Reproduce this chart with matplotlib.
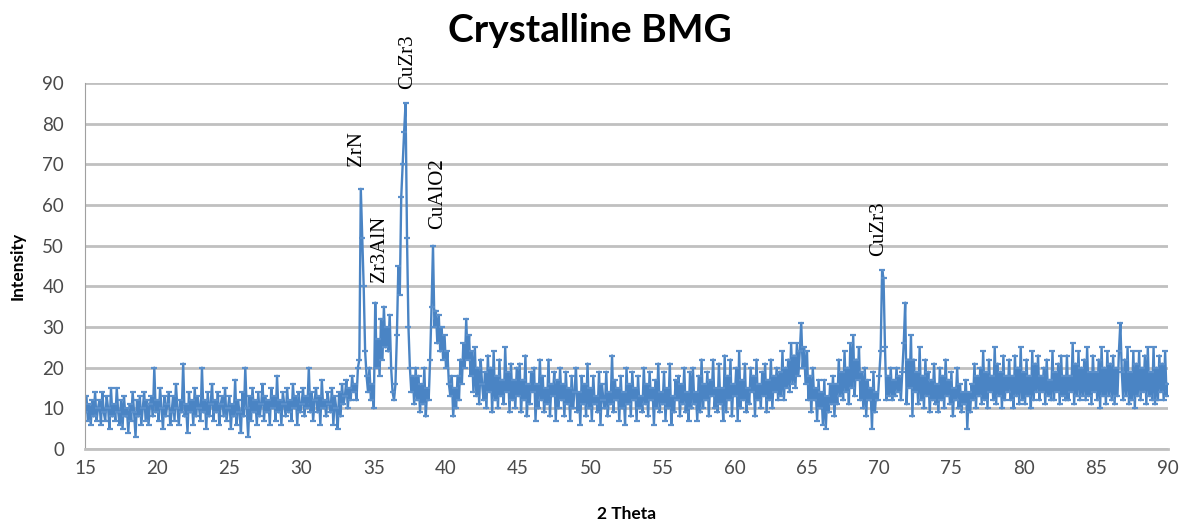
import matplotlib.pyplot as plt
import numpy as np

plt.rcParams['font.family'] = ['Lato', 'DejaVu Sans']

# 2-theta scan, 0.1 deg step from 15 to 90
two_theta_start = 15.0
two_theta_step = 0.1
intensity = [
    9, 13, 7, 11, 6, 12, 8, 14, 7, 10,        # 15
    12, 6, 14, 9, 7, 13, 10, 5, 15, 8,        # 16
    11, 7, 15, 9, 6, 12, 5, 13, 8, 10,        # 17
    4, 11, 7, 14, 9, 3, 12, 8, 13, 6,         # 18
    10, 14, 7, 12, 6, 11, 13, 8, 20, 9,       # 19
    12, 7, 15, 10, 5, 13, 8, 11, 14, 6,       # 20
    9, 13, 7, 16, 10, 6, 12, 9, 21, 8,        # 21
    11, 4, 14, 9, 12, 6, 15, 8, 13, 10,       # 22
    7, 20, 9, 12, 5, 14, 8, 11, 16, 7,        # 23
    12, 9, 14, 6, 11, 13, 8, 15, 7, 10,       # 24
    13, 5, 11, 8, 17, 6, 12, 9, 4, 14,        # 25
    8, 20, 10, 3, 13, 7, 15, 9, 12, 6,        # 26
    14, 8, 11, 16, 7, 13, 9, 12, 6, 15,       # 27
    10, 13, 7, 18, 9, 12, 6, 14, 11, 8,       # 28
    15, 9, 12, 7, 16, 10, 13, 6, 14, 9,       # 29
    11, 15, 8, 13, 10, 20, 9, 14, 7, 12,      # 30
    15, 9, 13, 6, 17, 10, 12, 8, 14, 11,      # 31
    9, 15, 6, 13, 10, 5, 14, 8, 16, 11,       # 32
    13, 17, 10, 15, 12, 18, 14, 16, 12, 20,   # 33
    22, 64, 52, 40, 24, 18, 14, 20, 12, 16,   # 34
    10, 36, 20, 27, 18, 32, 22, 35, 25, 30,   # 35
    24, 33, 20, 14, 12, 16, 28, 45, 38, 62,   # 36
    70, 78, 85, 52, 30, 20, 14, 18, 11, 20,   # 37
    12, 18, 9, 16, 11, 20, 8, 15, 12, 22,     # 38
    35, 50, 30, 34, 26, 33, 24, 30, 22, 28,   # 39
    20, 24, 16, 13, 18, 8, 15, 10, 18, 12,    # 40
    22, 16, 26, 20, 32, 22, 28, 18, 24, 14,   # 41
    25, 13, 20, 11, 22, 16, 12, 19, 10, 23,   # 42
    14, 20, 9, 24, 12, 18, 10, 22, 13, 17,    # 43
    11, 25, 14, 19, 9, 21, 12, 17, 10, 20,    # 44
    13, 21, 9, 17, 12, 23, 8, 16, 11, 19,     # 45
    14, 20, 7, 16, 10, 22, 12, 18, 9, 15,     # 46
    11, 22, 8, 16, 13, 19, 7, 17, 10, 20,     # 47
    12, 16, 8, 19, 11, 15, 7, 18, 10, 14,     # 48
    20, 9, 14, 6, 18, 11, 16, 8, 21, 10,      # 49
    15, 7, 18, 11, 13, 9, 19, 6, 16, 12,      # 50
    10, 19, 8, 14, 11, 23, 9, 17, 12, 15,     # 51
    7, 18, 10, 14, 6, 20, 11, 16, 8, 19,      # 52
    12, 15, 7, 18, 10, 13, 9, 20, 11, 16,     # 53
    8, 19, 12, 15, 6, 17, 10, 21, 9, 14,      # 54
    11, 19, 7, 15, 10, 21, 6, 13, 9, 17,      # 55
    12, 18, 8, 16, 11, 20, 9, 14, 7, 19,      # 56
    10, 20, 11, 14, 7, 18, 9, 22, 10, 16,     # 57
    12, 19, 8, 17, 13, 22, 10, 15, 9, 21,     # 58
    11, 15, 7, 23, 9, 18, 12, 22, 8, 16,      # 59
    13, 20, 7, 24, 10, 17, 12, 21, 9, 15,     # 60
    11, 20, 14, 18, 8, 22, 12, 16, 10, 19,    # 61
    13, 21, 9, 17, 12, 22, 10, 18, 14, 20,    # 62
    12, 19, 13, 24, 12, 20, 15, 22, 14, 26,   # 63
    16, 23, 15, 26, 18, 24, 31, 20, 25, 16,   # 64
    24, 12, 18, 9, 20, 12, 15, 7, 17, 10,     # 65
    14, 6, 17, 5, 13, 9, 16, 11, 18, 8,       # 66
    16, 11, 22, 13, 19, 12, 24, 14, 20, 11,   # 67
    26, 15, 28, 13, 22, 17, 25, 12, 19, 10,   # 68
    20, 8, 17, 12, 15, 5, 19, 9, 14, 12,      # 69
    18, 24, 44, 42, 25, 12, 18, 13, 20, 12,   # 70
    17, 13, 20, 14, 18, 12, 19, 26, 36, 11,   # 71
    22, 15, 28, 8, 22, 14, 19, 11, 25, 12,    # 72
    18, 10, 22, 13, 19, 9, 17, 12, 21, 11,    # 73
    16, 9, 20, 12, 18, 10, 22, 13, 17, 11,    # 74
    19, 8, 15, 12, 20, 10, 16, 9, 14, 11,     # 75
    17, 5, 14, 9, 16, 12, 21, 10, 18, 13,     # 76
    20, 11, 24, 12, 19, 10, 22, 14, 18, 12,   # 77
    25, 11, 21, 13, 19, 10, 23, 12, 18, 14,   # 78
    22, 12, 18, 10, 23, 13, 20, 11, 25, 12,   # 79
    19, 11, 22, 13, 18, 10, 24, 12, 21, 14,   # 80
    23, 12, 18, 14, 20, 11, 22, 13, 17, 12,   # 81
    24, 12, 19, 14, 21, 11, 23, 13, 18, 12,   # 82
    23, 12, 18, 14, 26, 11, 21, 13, 24, 12,   # 83
    20, 13, 22, 12, 25, 13, 19, 11, 23, 14,   # 84
    19, 12, 22, 10, 25, 13, 20, 11, 24, 13,   # 85
    21, 12, 23, 11, 20, 13, 24, 31, 19, 12,   # 86
    22, 13, 25, 11, 19, 12, 24, 10, 21, 13,   # 87
    24, 12, 20, 14, 23, 11, 25, 13, 19, 12,   # 88
    25, 11, 20, 12, 23, 14, 21, 12, 24, 13,   # 89
    16,                                       # 90
]
two_theta = two_theta_start + two_theta_step * np.arange(len(intensity))

# peak labels: (centre of text, bottom of text, label)
peak_pos = [33.8, 35.4, 37.35, 39.45, 69.95]
peak_text_y = [69.5, 41, 88.5, 54, 47.5]
peak_names = ['ZrN', 'Zr3AlN', 'CuZr3', 'CuAlO2', 'CuZr3']

fig = plt.figure(figsize=(11.87, 5.23), dpi=100)
ax = fig.add_axes([0.0716, 0.1415, 0.9124, 0.6995])

line_color = '#4a84c4'
ax.plot(two_theta, intensity, color=line_color, lw=1.7, marker='_',
        markersize=4, markeredgewidth=1.6, markeredgecolor='#5a8fcb')

for pos, ty, name in zip(peak_pos, peak_text_y, peak_names):
    ax.text(pos, ty, name, rotation=90, ha='center', va='bottom',
            family=['Liberation Serif', 'DejaVu Serif'], fontsize=15, color='black')

ax.set_xlim(15, 90)
ax.set_ylim(0, 90)
ax.set_xticks(np.arange(15, 91, 5))
ax.set_yticks(np.arange(0, 91, 10))
ax.yaxis.grid(True, color='#c0c0c0', lw=2)
ax.set_axisbelow(True)
for s in ['top', 'right']:
    ax.spines[s].set_visible(False)
ax.spines['left'].set_color('#a0a0a0')
ax.spines['bottom'].set_color('#c0c0c0')
ax.spines['bottom'].set_linewidth(2)
ax.tick_params(length=0, labelsize=13.5, labelcolor='#4a4a4a')
ax.tick_params(axis='x', pad=8)
ax.tick_params(axis='y', pad=15)

ax.set_xlabel('2 Theta', fontsize=12.5, fontweight='bold', labelpad=21)
ax.set_ylabel('Intensity', fontsize=12.5, fontweight='bold', labelpad=12)
fig.suptitle('Crystalline BMG', fontsize=28, fontweight='bold', x=0.497, y=0.975)

fig.savefig('out.png', dpi=100)
